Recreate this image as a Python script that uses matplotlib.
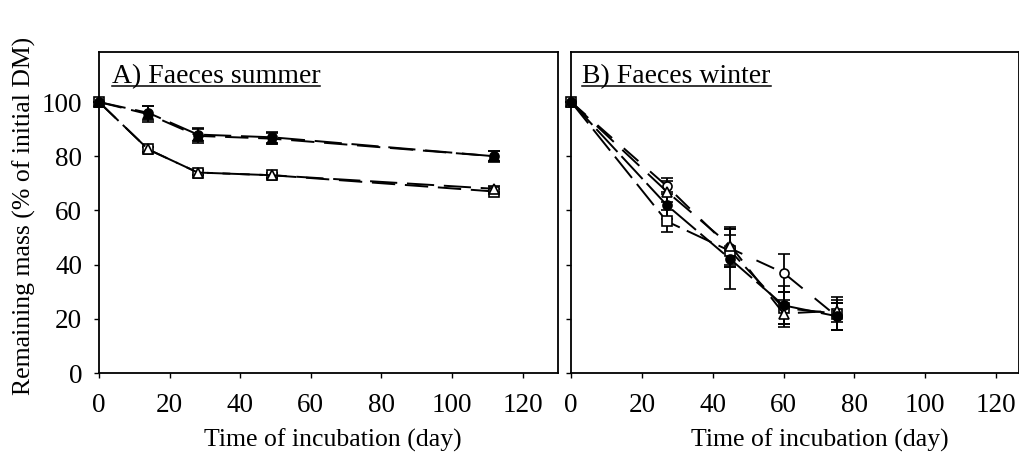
import matplotlib
matplotlib.use("Agg")
import matplotlib.pyplot as plt
from matplotlib.lines import Line2D

plt.rcParams['font.family'] = ['Liberation Serif', 'DejaVu Serif']

# ---- Data: panel A (Faeces summer) ----
days_a = [0, 14, 28, 49, 112]
a_filled_circle = [100, 96, 88, 87, 80]
a_filled_circle_err = [0, 2.5, 2.5, 2, 1.8]
a_filled_tri = [100, 95.5, 87.5, 86.5, 80]
a_filled_tri_err = [0, 3, 2.5, 2, 2]
a_open_tri = [100, 82.5, 74, 73, 68]
a_open_tri_err = [0, 1, 1, 1, 1]
a_open_sq = [100, 82.5, 74, 73, 67]
a_open_sq_err = [0, 1, 1, 1, 1]

# ---- Data: panel B (Faeces winter) ----
days_b = [0, 27, 45, 60, 75]
b_open_circle = [100, 69, 46, 37, 21]
b_open_circle_err = [0, 3, 7, 7, 5]
b_filled_circle = [100, 62, 42, 25, 21]
b_filled_circle_err = [0, 5, 11, 7, 5]
b_open_sq = [100, 56, 45, 24, 22]
b_open_sq_err = [0, 4, 6, 6, 6]
b_open_tri = [100, 67, 47, 22, 23]
b_open_tri_err = [0, 4, 7, 5, 4]

titles = ["A) Faeces summer", "B) Faeces winter"]
xlabel = "Time of incubation (day)"
ylabel = "Remaining mass (% of initial DM)"
xticks = [0, 20, 40, 60, 80, 100, 120]
yticks = [0, 20, 40, 60, 80, 100]

fig = plt.figure(figsize=(10.2, 4.59), dpi=100)
axA = fig.add_axes([0.097, 0.187, 0.450, 0.700])
axB = fig.add_axes([0.560, 0.187, 0.439, 0.700])

FS_TITLE = 20
FS_TICK = 19.5
FS_LABEL = 18.5

def series(ax, x, y, e, marker, filled, dashes, lw=1.4):
    ax.errorbar(x, y, yerr=e, color='black', marker=marker, markersize=6.5,
                markerfacecolor='black' if filled else 'white',
                markeredgecolor='black', markeredgewidth=1.2,
                linewidth=lw, dashes=dashes, elinewidth=1.3, capsize=4.5,
                capthick=1.3, zorder=3, clip_on=False)

series(axA, days_a, a_open_sq, a_open_sq_err, 's', False, (12, 5))
series(axA, days_a, a_open_tri, a_open_tri_err, '^', False, (14, 5))
series(axA, days_a, a_filled_tri, a_filled_tri_err, '^', True, (12, 5))
series(axA, days_a, a_filled_circle, a_filled_circle_err, 'o', True, (14, 5))

series(axB, days_b, b_open_circle, b_open_circle_err, 'o', False, (10, 8))
series(axB, days_b, b_open_sq, b_open_sq_err, 's', False, (14, 4))
series(axB, days_b, b_open_tri, b_open_tri_err, '^', False, (12, 6))
series(axB, days_b, b_filled_circle, b_filled_circle_err, 'o', True, (16, 3))

axA.set_xlim(0, 130)
axB.set_xlim(0, 126.5)
for ax in (axA, axB):
    ax.set_ylim(0, 118.5)
    ax.set_xticks(xticks)
    ax.set_yticks(yticks)
    ax.tick_params(direction='out', length=3.6, width=1, labelsize=FS_TICK)
    ax.tick_params(axis='x', pad=11)
    ax.tick_params(axis='y', pad=8.5)
    for s in ax.spines.values():
        s.set_linewidth(1.3)
    ax.set_xlabel(xlabel, fontsize=FS_LABEL)
axA.xaxis.set_label_coords(0.51, -0.172)
axB.xaxis.set_label_coords(0.555, -0.172)
axB.set_yticklabels([])
axA.set_ylabel(ylabel, fontsize=FS_LABEL)
axA.yaxis.set_label_coords(-0.137, 0.49)

texts = []
for ax, t, xpos in zip((axA, axB), titles, (0.028, 0.0245)):
    tx = ax.text(xpos, 0.903, t, transform=ax.transAxes, fontsize=FS_TITLE,
                 ha='left', va='baseline')
    texts.append(tx)

fig.canvas.draw()
r = fig.canvas.get_renderer()
inv = fig.transFigure.inverted()
for tx in texts:
    bb = tx.get_window_extent(renderer=r)
    (x0, y0) = inv.transform((bb.x0, bb.y0 + 3))
    (x1, _) = inv.transform((bb.x1, bb.y0 + 3))
    fig.add_artist(Line2D([x0, x1], [y0, y0], transform=fig.transFigure,
                          color='black', linewidth=1.1))

fig.savefig("out.png", dpi=100)
